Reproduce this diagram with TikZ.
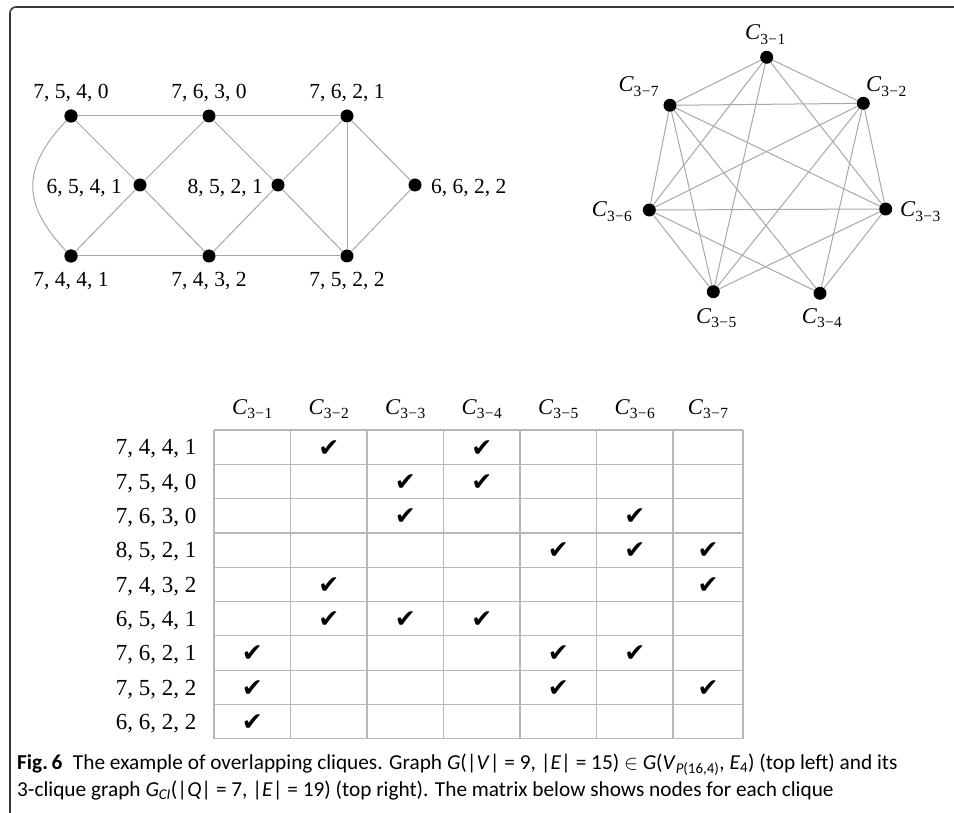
\documentclass[tikz,border=0pt]{standalone}
\usepackage{fontspec}
\setmainfont{Liberation Serif}
\newfontfamily\capfont{Carlito}
\newfontfamily\symfont{DejaVu Sans}
\definecolor{edgegray}{RGB}{168,168,172}
\definecolor{gridgray}{RGB}{182,182,188}
\definecolor{framecol}{RGB}{55,55,55}
\newcommand\cqlab[1]{\textit{C}\raisebox{-4.5pt}{\fontsize{15.5pt}{16pt}\selectfont 3\kern0.3pt−\kern0.3pt#1}}
\newcommand\qlab[4]{#1, #2, #3, #4}
\begin{document}
\begin{tikzpicture}[x=1pt,y=1pt,
  dot/.style={circle,fill=black,inner sep=0pt,minimum size=13pt},
  gedge/.style={draw=edgegray,line width=1pt},
  vlab/.style={font=\fontsize{21.5pt}{24pt}\selectfont,inner sep=0pt},
  clab/.style={font=\fontsize{22.5pt}{24pt}\selectfont,inner sep=0pt,anchor=base west},
  hlab/.style={font=\fontsize{22.5pt}{24pt}\selectfont,inner sep=0pt,anchor=base},
  rlab/.style={font=\fontsize{23pt}{25pt}\selectfont,inner sep=0pt,anchor=base east},
  chk/.style={font=\symfont\fontsize{25pt}{26pt}\selectfont,inner sep=0pt},
  gridln/.style={draw=gridgray,line width=1.2pt},
  captext/.style={font=\capfont\fontsize{21.3pt}{24pt}\selectfont,inner sep=0pt,anchor=base west}
]
\useasboundingbox (0,0) rectangle (954,-813);
% frame
\draw[framecol,line width=1.6pt,rounded corners=6pt] (10,-813) -- (10,-7) -- (954,-7);

% ---------- left graph ----------
\node[dot] (a7540) at (71,-116) {};
\node[dot] (a7630) at (209,-116) {};
\node[dot] (a7621) at (347,-116) {};
\node[dot] (a6541) at (140,-185) {};
\node[dot] (a8521) at (278,-185) {};
\node[dot] (a6622) at (415,-185) {};
\node[dot] (a7441) at (71,-256) {};
\node[dot] (a7432) at (209,-256) {};
\node[dot] (a7522) at (347,-256) {};

\draw[gedge] (a7540) -- (a7630);
\draw[gedge] (a7630) -- (a7621);
\draw[gedge] (a7441) -- (a7432);
\draw[gedge] (a7432) -- (a7522);
\draw[gedge] (a7540) -- (a6541);
\draw[gedge] (a6541) -- (a7630);
\draw[gedge] (a6541) -- (a7441);
\draw[gedge] (a6541) -- (a7432);
\draw[gedge] (a7630) -- (a8521);
\draw[gedge] (a8521) -- (a7621);
\draw[gedge] (a8521) -- (a7432);
\draw[gedge] (a8521) -- (a7522);
\draw[gedge] (a7621) -- (a7522);
\draw[gedge] (a7621) -- (a6622);
\draw[gedge] (a6622) -- (a7522);
\draw[gedge] (a7540.center) .. controls (20,-167) and (20,-205) .. (a7441.center);
\node[dot] at (a7540) {};
\node[dot] at (a7441) {};

\node[vlab,anchor=base] (l7540) at (71,-98.5) {7, 5, 4, 0};
\node[vlab,anchor=base] (l7630) at (209,-98.5) {7, 6, 3, 0};
\node[vlab,anchor=base] (l7621) at (347,-98.5) {7, 6, 2, 1};
\node[vlab,anchor=base east] (l6541) at (122,-193.3) {6, 5, 4, 1};
\node[vlab,anchor=base east] (l8521) at (263,-193.3) {8, 5, 2, 1};
\node[vlab,anchor=base west] (l6622) at (431,-193.3) {6, 6, 2, 2};
\node[vlab,anchor=base] (l7441) at (71,-286.7) {7, 4, 4, 1};
\node[vlab,anchor=base] (l7432) at (209,-286.7) {7, 4, 3, 2};
\node[vlab,anchor=base] (l7522) at (347,-286.7) {7, 5, 2, 2};

% ---------- right graph ----------
\node[dot] (c1) at (766.7,-57.3) {};
\node[dot] (c2) at (863.3,-103.3) {};
\node[dot] (c3) at (885.7,-209) {};
\node[dot] (c4) at (820,-293.3) {};
\node[dot] (c5) at (713.3,-291.7) {};
\node[dot] (c6) at (649.3,-210) {};
\node[dot] (c7) at (670,-105.3) {};
\foreach \u/\v in {c1/c2,c1/c3,c1/c5,c1/c6,c1/c7,
                   c2/c3,c2/c4,c2/c5,c2/c6,c2/c7,
                   c3/c4,c3/c5,c3/c6,c3/c7,
                   c4/c6,c4/c7,
                   c5/c6,c5/c7,
                   c6/c7}
  \draw[gedge] (\u) -- (\v);

\node[clab] (lc1) at (745,-40) {\cqlab{1}};
\node[clab] (lc2) at (866,-91.7) {\cqlab{2}};
\node[clab] (lc3) at (900,-216.7) {\cqlab{3}};
\node[clab] (lc4) at (801.7,-323.3) {\cqlab{4}};
\node[clab] (lc5) at (696,-323.3) {\cqlab{5}};
\node[clab] (lc6) at (591.7,-216.7) {\cqlab{6}};
\node[clab] (lc7) at (618.3,-91.7) {\cqlab{7}};

% ---------- table ----------
\def\colx{{214,290.5,367,443.5,520,596.5,673,743}}
\foreach \i in {0,...,9}
  \draw[gridln] (214,{-430-34.3*\i}) -- (743,{-430-34.3*\i});
\foreach \j in {0,...,7}{
  \pgfmathsetmacro\xx{\colx[\j]}
  \draw[gridln] (\xx,-430) -- (\xx,-738.7);
}
\foreach \c in {1,...,7}{
  \pgfmathsetmacro\xa{\colx[\c-1]}
  \pgfmathsetmacro\xb{\colx[\c]}
  \node[hlab] (h\c) at ({(\xa+\xb)/2},-414) {\cqlab{\c}};
}
\foreach \r/\t in {1/7441,2/7540,3/7630,4/8521,5/7432,6/6541,7/7621,8/7522,9/6622}
  \node[rlab] (r\r) at (196.5,{-430-34.3*(\r-0.5)-7.8}) {\expandafter\qlab\t};
\foreach \r/\c in {1/2,1/4,2/3,2/4,3/3,3/6,4/5,4/6,4/7,5/2,5/7,6/2,6/3,6/4,7/1,7/5,7/6,8/1,8/5,8/7,9/1}{
  \pgfmathsetmacro\xa{\colx[\c-1]}
  \pgfmathsetmacro\xb{\colx[\c]}
  \node[chk] (k\r-\c) at ({(\xa+\xb)/2},{-430-34.3*(\r-0.5)-1}) {✔};
}

% ---------- caption ----------
\node[captext] (cap1) at (17,-769.3) {\textbf{Fig.\,6}\hspace{0.5em}The example of overlapping cliques. Graph \textit{G}(|\textit{V}| = 9, |\textit{E}| = 15) $\in$ \textit{G}(\textit{V}\textsubscript{\textit{P}(16,4)}, \textit{E}\textsubscript{4}) (top left) and its};
\node[captext] (cap2) at (17,-796.7) {3-clique graph \textit{G}\textsubscript{\textit{CI}}(|\textit{Q}| = 7, |\textit{E}| = 19) (top right). The matrix below shows nodes for each clique};
\end{tikzpicture}
\end{document}
